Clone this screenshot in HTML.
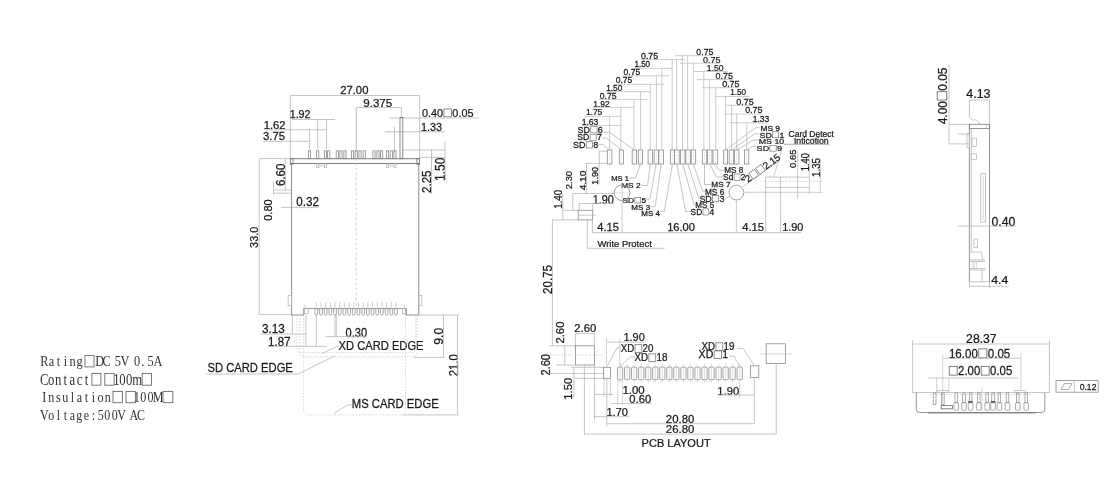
<!DOCTYPE html>
<html><head><meta charset="utf-8"><style>
html,body{margin:0;padding:0;background:#fff;width:1120px;height:492px;overflow:hidden}
svg{display:block;will-change:transform}
</style></head><body>
<svg width="1120" height="492" viewBox="0 0 1120 492">
<rect width="1120" height="492" fill="#fff"/>
<g transform="translate(340.70,94.10) scale(1.002,1)"><text x="-0.57" y="0" font-family="Liberation Sans" font-size="11.29" fill="#1a1a1a" stroke="#1a1a1a" stroke-width="0.25" xml:space="preserve">27.00</text></g>
<line x1="290.3" y1="95.5" x2="419.6" y2="95.5" stroke="#b8b8b8" stroke-width="0.8"/>
<line x1="290.3" y1="95.5" x2="290.3" y2="159" stroke="#b8b8b8" stroke-width="0.8"/>
<line x1="419.6" y1="95.5" x2="419.6" y2="158.7" stroke="#b8b8b8" stroke-width="0.8"/>
<g transform="translate(363.80,106.50) scale(1.112,1)"><text x="-0.49" y="0" font-family="Liberation Sans" font-size="10.43" fill="#1a1a1a" stroke="#1a1a1a" stroke-width="0.25" xml:space="preserve">9.375</text></g>
<line x1="356.3" y1="107.5" x2="401.3" y2="107.5" stroke="#b8b8b8" stroke-width="0.8"/>
<line x1="356.3" y1="107.5" x2="356.3" y2="152" stroke="#b8b8b8" stroke-width="0.8"/>
<line x1="401.3" y1="107.5" x2="401.3" y2="117.5" stroke="#b8b8b8" stroke-width="0.8"/>
<g transform="translate(290.50,118.00) scale(1.000,1)"><text x="-0.82" y="0" font-family="Liberation Sans" font-size="10.71" fill="#1a1a1a" stroke="#1a1a1a" stroke-width="0.25" xml:space="preserve">1.92</text></g>
<line x1="292" y1="119.5" x2="335" y2="119.5" stroke="#b8b8b8" stroke-width="0.8"/>
<line x1="317.7" y1="119" x2="317.7" y2="149" stroke="#b8b8b8" stroke-width="0.8"/>
<line x1="326.5" y1="119" x2="326.5" y2="149" stroke="#b8b8b8" stroke-width="0.8"/>
<g transform="translate(264.50,129.00) scale(1.051,1)"><text x="-0.82" y="0" font-family="Liberation Sans" font-size="10.71" fill="#1a1a1a" stroke="#1a1a1a" stroke-width="0.25" xml:space="preserve">1.62</text></g>
<line x1="264" y1="129.8" x2="327" y2="129.8" stroke="#b8b8b8" stroke-width="0.8"/>
<line x1="309.5" y1="128.5" x2="309.5" y2="149" stroke="#b8b8b8" stroke-width="0.8"/>
<g transform="translate(263.50,140.40) scale(1.064,1)"><text x="-0.40" y="0" font-family="Liberation Sans" font-size="10.57" fill="#1a1a1a" stroke="#1a1a1a" stroke-width="0.25" xml:space="preserve">3.75</text></g>
<line x1="263" y1="141.3" x2="308.6" y2="141.3" stroke="#b8b8b8" stroke-width="0.8"/>
<g transform="translate(422.40,116.60) scale(1.025,1)"><text x="-0.41" y="0" font-family="Liberation Sans" font-size="10.57" fill="#1a1a1a" stroke="#1a1a1a" stroke-width="0.25" xml:space="preserve">0.40</text><rect x="21.01" y="-7.61" width="7.40" height="7.82" fill="none" stroke="#666" stroke-width="0.74"/><text x="29.25" y="0" font-family="Liberation Sans" font-size="10.57" fill="#1a1a1a" stroke="#1a1a1a" stroke-width="0.25" xml:space="preserve">0.05</text></g>
<line x1="389.4" y1="118" x2="479" y2="118" stroke="#b8b8b8" stroke-width="0.8"/>
<g transform="translate(421.80,131.00) scale(1.012,1)"><text x="-0.82" y="0" font-family="Liberation Sans" font-size="10.71" fill="#1a1a1a" stroke="#1a1a1a" stroke-width="0.25" xml:space="preserve">1.33</text></g>
<line x1="384.8" y1="131.8" x2="445" y2="131.8" stroke="#b8b8b8" stroke-width="0.8"/>
<line x1="394.4" y1="127" x2="394.4" y2="152.3" stroke="#b8b8b8" stroke-width="0.8"/>
<g transform="translate(445.00,180.00) rotate(-90) scale(0.841,1)"><text x="-1.09" y="0" font-family="Liberation Sans" font-size="14.29" fill="#1a1a1a" stroke="#1a1a1a" stroke-width="0.25" xml:space="preserve">1.50</text></g>
<line x1="445" y1="141.3" x2="445" y2="180" stroke="#b8b8b8" stroke-width="0.8"/>
<line x1="403" y1="150" x2="445" y2="150" stroke="#b8b8b8" stroke-width="0.8"/>
<g transform="translate(431.00,192.40) rotate(-90) scale(0.898,1)"><text x="-0.65" y="0" font-family="Liberation Sans" font-size="12.86" fill="#1a1a1a" stroke="#1a1a1a" stroke-width="0.25" xml:space="preserve">2.25</text></g>
<line x1="431.5" y1="149.5" x2="431.5" y2="194" stroke="#b8b8b8" stroke-width="0.8"/>
<line x1="419" y1="157.3" x2="445" y2="157.3" stroke="#b8b8b8" stroke-width="0.8"/>
<g transform="translate(284.60,185.50) rotate(-90) scale(0.887,1)"><text x="-0.66" y="0" font-family="Liberation Sans" font-size="13.00" fill="#1a1a1a" stroke="#1a1a1a" stroke-width="0.25" xml:space="preserve">6.60</text></g>
<line x1="285.4" y1="158.6" x2="285.4" y2="190" stroke="#b8b8b8" stroke-width="0.8"/>
<line x1="273.5" y1="190" x2="291.3" y2="190" stroke="#b8b8b8" stroke-width="0.8"/>
<line x1="273.5" y1="193.2" x2="291.3" y2="193.2" stroke="#b8b8b8" stroke-width="0.8"/>
<g transform="translate(272.40,220.40) rotate(-90) scale(0.958,1)"><text x="-0.45" y="0" font-family="Liberation Sans" font-size="11.57" fill="#1a1a1a" stroke="#1a1a1a" stroke-width="0.25" xml:space="preserve">0.80</text></g>
<line x1="273.5" y1="181.4" x2="273.5" y2="194.6" stroke="#b8b8b8" stroke-width="0.8"/>
<g transform="translate(296.70,206.40) scale(0.969,1)"><text x="-0.47" y="0" font-family="Liberation Sans" font-size="12.00" fill="#1a1a1a" stroke="#1a1a1a" stroke-width="0.25" xml:space="preserve">0.32</text></g>
<line x1="281" y1="207.6" x2="318.7" y2="207.6" stroke="#b8b8b8" stroke-width="0.8"/>
<g transform="translate(258.20,247.50) rotate(-90) scale(0.927,1)"><text x="-0.45" y="0" font-family="Liberation Sans" font-size="11.71" fill="#1a1a1a" stroke="#1a1a1a" stroke-width="0.25" xml:space="preserve">33.0</text></g>
<line x1="259.2" y1="158.6" x2="259.2" y2="314.6" stroke="#b8b8b8" stroke-width="0.8"/>
<line x1="259.2" y1="158.6" x2="290.3" y2="158.6" stroke="#b8b8b8" stroke-width="0.8"/>
<line x1="259.2" y1="314.6" x2="291.6" y2="314.6" stroke="#b8b8b8" stroke-width="0.8"/>
<line x1="290.3" y1="158.7" x2="419.6" y2="158.7" stroke="#6e6e6e" stroke-width="0.9"/>
<line x1="290.3" y1="163.5" x2="419.6" y2="163.5" stroke="#6e6e6e" stroke-width="0.9"/>
<rect x="290.3" y="158.7" width="2.7" height="5.5" fill="none" stroke="#6e6e6e" stroke-width="0.8"/>
<rect x="416.9" y="158.7" width="2.7" height="5.5" fill="none" stroke="#6e6e6e" stroke-width="0.8"/>
<rect x="308.4" y="150.8" width="2.2" height="7.9" fill="none" stroke="#888" stroke-width="0.8"/>
<rect x="316.59999999999997" y="150.8" width="2.2" height="7.9" fill="none" stroke="#888" stroke-width="0.8"/>
<rect x="324.29999999999995" y="150.8" width="2.2" height="7.9" fill="none" stroke="#888" stroke-width="0.8"/>
<rect x="327.59999999999997" y="150.8" width="2.2" height="7.9" fill="none" stroke="#888" stroke-width="0.8"/>
<rect x="336.2" y="150.8" width="2.2" height="7.9" fill="none" stroke="#888" stroke-width="0.8"/>
<rect x="339.9" y="150.8" width="2.2" height="7.9" fill="none" stroke="#888" stroke-width="0.8"/>
<rect x="343.9" y="150.8" width="2.2" height="7.9" fill="none" stroke="#888" stroke-width="0.8"/>
<rect x="351.4" y="150.8" width="2.2" height="7.9" fill="none" stroke="#888" stroke-width="0.8"/>
<rect x="355.09999999999997" y="150.8" width="2.2" height="7.9" fill="none" stroke="#888" stroke-width="0.8"/>
<rect x="358.9" y="150.8" width="2.2" height="7.9" fill="none" stroke="#888" stroke-width="0.8"/>
<rect x="363.09999999999997" y="150.8" width="2.2" height="7.9" fill="none" stroke="#888" stroke-width="0.8"/>
<rect x="372.9" y="150.8" width="2.2" height="7.9" fill="none" stroke="#888" stroke-width="0.8"/>
<rect x="376.9" y="150.8" width="2.2" height="7.9" fill="none" stroke="#888" stroke-width="0.8"/>
<rect x="380.5" y="150.8" width="2.2" height="7.9" fill="none" stroke="#888" stroke-width="0.8"/>
<rect x="386.4" y="150.8" width="2.2" height="7.9" fill="none" stroke="#888" stroke-width="0.8"/>
<rect x="390.2" y="150.8" width="2.2" height="7.9" fill="none" stroke="#888" stroke-width="0.8"/>
<rect x="393.9" y="150.8" width="2.2" height="7.9" fill="none" stroke="#888" stroke-width="0.8"/>
<rect x="400" y="117.5" width="2.8" height="41.2" fill="none" stroke="#6e6e6e" stroke-width="0.8"/>
<rect x="316.59999999999997" y="164" width="2.2" height="3.5" fill="none" stroke="#b8b8b8" stroke-width="0.8"/>
<rect x="324.29999999999995" y="164" width="2.2" height="3.5" fill="none" stroke="#b8b8b8" stroke-width="0.8"/>
<line x1="318.8" y1="165.8" x2="324.29999999999995" y2="165.8" stroke="#b8b8b8" stroke-width="0.8"/>
<rect x="386.4" y="164" width="2.2" height="3.5" fill="none" stroke="#b8b8b8" stroke-width="0.8"/>
<rect x="393.9" y="164" width="2.2" height="3.5" fill="none" stroke="#b8b8b8" stroke-width="0.8"/>
<line x1="388.6" y1="165.8" x2="393.9" y2="165.8" stroke="#b8b8b8" stroke-width="0.8"/>
<line x1="291.6" y1="163.5" x2="291.6" y2="315" stroke="#6e6e6e" stroke-width="0.8"/>
<line x1="418.8" y1="163.5" x2="418.8" y2="315" stroke="#6e6e6e" stroke-width="0.8"/>
<line x1="356.2" y1="107.5" x2="356.2" y2="308.7" stroke="#c4c4c4" stroke-width="0.7" stroke-dasharray="3,2"/>
<rect x="288.1" y="295.6" width="3.4" height="10.0" fill="none" stroke="#b8b8b8" stroke-width="0.8"/>
<rect x="418.8" y="295.6" width="3.1" height="10.0" fill="none" stroke="#b8b8b8" stroke-width="0.8"/>
<line x1="291.6" y1="315" x2="303.75" y2="315" stroke="#6e6e6e" stroke-width="0.8"/>
<line x1="303.75" y1="308.5" x2="303.75" y2="315" stroke="#6e6e6e" stroke-width="0.8"/>
<line x1="303.75" y1="308.5" x2="406.25" y2="308.5" stroke="#888" stroke-width="0.8"/>
<rect x="304.4" y="308.5" width="3.7" height="5.2" fill="none" stroke="#aaa" stroke-width="0.7"/>
<rect x="402.5" y="308.5" width="3.1" height="5.2" fill="none" stroke="#aaa" stroke-width="0.7"/>
<path d="M314.90,308.5 V313.5 Q314.90,315.2 316.25,315.2 Q317.60,315.2 317.60,313.5 V308.5" fill="none" stroke="#888" stroke-width="0.75"/>
<line x1="316.25" y1="302.0" x2="316.25" y2="308.5" stroke="#b4b4b4" stroke-width="0.6"/>
<path d="M319.59,308.5 V313.5 Q319.59,315.2 320.94,315.2 Q322.29,315.2 322.29,313.5 V308.5" fill="none" stroke="#888" stroke-width="0.75"/>
<line x1="320.94" y1="302.0" x2="320.94" y2="308.5" stroke="#b4b4b4" stroke-width="0.6"/>
<path d="M324.28,308.5 V313.5 Q324.28,315.2 325.63,315.2 Q326.98,315.2 326.98,313.5 V308.5" fill="none" stroke="#888" stroke-width="0.75"/>
<line x1="325.63" y1="302.0" x2="325.63" y2="308.5" stroke="#b4b4b4" stroke-width="0.6"/>
<path d="M328.97,308.5 V313.5 Q328.97,315.2 330.32,315.2 Q331.67,315.2 331.67,313.5 V308.5" fill="none" stroke="#888" stroke-width="0.75"/>
<line x1="330.32" y1="302.0" x2="330.32" y2="308.5" stroke="#b4b4b4" stroke-width="0.6"/>
<path d="M333.66,308.5 V313.5 Q333.66,315.2 335.01,315.2 Q336.36,315.2 336.36,313.5 V308.5" fill="none" stroke="#888" stroke-width="0.75"/>
<line x1="335.01" y1="302.0" x2="335.01" y2="308.5" stroke="#b4b4b4" stroke-width="0.6"/>
<path d="M338.35,308.5 V313.5 Q338.35,315.2 339.70,315.2 Q341.05,315.2 341.05,313.5 V308.5" fill="none" stroke="#888" stroke-width="0.75"/>
<line x1="339.7" y1="302.0" x2="339.7" y2="308.5" stroke="#b4b4b4" stroke-width="0.6"/>
<path d="M343.04,308.5 V313.5 Q343.04,315.2 344.39,315.2 Q345.74,315.2 345.74,313.5 V308.5" fill="none" stroke="#888" stroke-width="0.75"/>
<line x1="344.39" y1="302.0" x2="344.39" y2="308.5" stroke="#b4b4b4" stroke-width="0.6"/>
<path d="M347.73,308.5 V313.5 Q347.73,315.2 349.08,315.2 Q350.43,315.2 350.43,313.5 V308.5" fill="none" stroke="#888" stroke-width="0.75"/>
<line x1="349.08" y1="302.0" x2="349.08" y2="308.5" stroke="#b4b4b4" stroke-width="0.6"/>
<path d="M352.42,308.5 V313.5 Q352.42,315.2 353.77,315.2 Q355.12,315.2 355.12,313.5 V308.5" fill="none" stroke="#888" stroke-width="0.75"/>
<line x1="353.77" y1="302.0" x2="353.77" y2="308.5" stroke="#b4b4b4" stroke-width="0.6"/>
<path d="M357.11,308.5 V313.5 Q357.11,315.2 358.46,315.2 Q359.81,315.2 359.81,313.5 V308.5" fill="none" stroke="#888" stroke-width="0.75"/>
<line x1="358.46" y1="302.0" x2="358.46" y2="308.5" stroke="#b4b4b4" stroke-width="0.6"/>
<path d="M361.80,308.5 V313.5 Q361.80,315.2 363.15,315.2 Q364.50,315.2 364.50,313.5 V308.5" fill="none" stroke="#888" stroke-width="0.75"/>
<line x1="363.15" y1="302.0" x2="363.15" y2="308.5" stroke="#b4b4b4" stroke-width="0.6"/>
<path d="M366.49,308.5 V313.5 Q366.49,315.2 367.84,315.2 Q369.19,315.2 369.19,313.5 V308.5" fill="none" stroke="#888" stroke-width="0.75"/>
<line x1="367.84" y1="302.0" x2="367.84" y2="308.5" stroke="#b4b4b4" stroke-width="0.6"/>
<path d="M371.18,308.5 V313.5 Q371.18,315.2 372.53,315.2 Q373.88,315.2 373.88,313.5 V308.5" fill="none" stroke="#888" stroke-width="0.75"/>
<line x1="372.53" y1="302.0" x2="372.53" y2="308.5" stroke="#b4b4b4" stroke-width="0.6"/>
<path d="M375.87,308.5 V313.5 Q375.87,315.2 377.22,315.2 Q378.57,315.2 378.57,313.5 V308.5" fill="none" stroke="#888" stroke-width="0.75"/>
<line x1="377.22" y1="302.0" x2="377.22" y2="308.5" stroke="#b4b4b4" stroke-width="0.6"/>
<path d="M380.56,308.5 V313.5 Q380.56,315.2 381.91,315.2 Q383.26,315.2 383.26,313.5 V308.5" fill="none" stroke="#888" stroke-width="0.75"/>
<line x1="381.91" y1="302.0" x2="381.91" y2="308.5" stroke="#b4b4b4" stroke-width="0.6"/>
<path d="M385.25,308.5 V313.5 Q385.25,315.2 386.60,315.2 Q387.95,315.2 387.95,313.5 V308.5" fill="none" stroke="#888" stroke-width="0.75"/>
<line x1="386.6" y1="302.0" x2="386.6" y2="308.5" stroke="#b4b4b4" stroke-width="0.6"/>
<path d="M389.94,308.5 V313.5 Q389.94,315.2 391.29,315.2 Q392.64,315.2 392.64,313.5 V308.5" fill="none" stroke="#888" stroke-width="0.75"/>
<line x1="391.29" y1="302.0" x2="391.29" y2="308.5" stroke="#b4b4b4" stroke-width="0.6"/>
<path d="M394.63,308.5 V313.5 Q394.63,315.2 395.98,315.2 Q397.33,315.2 397.33,313.5 V308.5" fill="none" stroke="#888" stroke-width="0.75"/>
<line x1="395.98" y1="302.0" x2="395.98" y2="308.5" stroke="#b4b4b4" stroke-width="0.6"/>
<line x1="305.0" y1="304.5" x2="305.0" y2="308.5" stroke="#b4b4b4" stroke-width="0.6"/>
<line x1="404.4" y1="304.5" x2="404.4" y2="308.5" stroke="#b4b4b4" stroke-width="0.6"/>
<line x1="406.25" y1="308.5" x2="406.25" y2="315" stroke="#6e6e6e" stroke-width="0.8"/>
<line x1="406.25" y1="315" x2="418.8" y2="315" stroke="#6e6e6e" stroke-width="0.8"/>
<line x1="418.8" y1="315" x2="458.9" y2="315" stroke="#b8b8b8" stroke-width="0.8"/>
<g transform="translate(262.40,333.40) scale(0.939,1)"><text x="-0.48" y="0" font-family="Liberation Sans" font-size="12.57" fill="#1a1a1a" stroke="#1a1a1a" stroke-width="0.25" xml:space="preserve">3.13</text></g>
<line x1="260.7" y1="334.1" x2="305.9" y2="334.1" stroke="#b8b8b8" stroke-width="0.8"/>
<g transform="translate(268.80,345.90) scale(0.937,1)"><text x="-0.95" y="0" font-family="Liberation Sans" font-size="12.43" fill="#1a1a1a" stroke="#1a1a1a" stroke-width="0.25" xml:space="preserve">1.87</text></g>
<line x1="268" y1="346.3" x2="326.6" y2="346.3" stroke="#b8b8b8" stroke-width="0.8"/>
<line x1="292.4" y1="315" x2="292.4" y2="334" stroke="#b8b8b8" stroke-width="0.8"/>
<line x1="305.9" y1="315" x2="305.9" y2="346" stroke="#b8b8b8" stroke-width="0.8"/>
<line x1="316.25" y1="315.2" x2="316.25" y2="346" stroke="#b8b8b8" stroke-width="0.8"/>
<line x1="335.0" y1="315.2" x2="335.0" y2="336.6" stroke="#b8b8b8" stroke-width="0.8"/>
<line x1="336.2" y1="315.2" x2="336.2" y2="336.6" stroke="#b8b8b8" stroke-width="0.8"/>
<g transform="translate(346.00,336.60) scale(0.928,1)"><text x="-0.47" y="0" font-family="Liberation Sans" font-size="12.00" fill="#1a1a1a" stroke="#1a1a1a" stroke-width="0.25" xml:space="preserve">0.30</text></g>
<line x1="325" y1="336.6" x2="366.8" y2="336.6" stroke="#b8b8b8" stroke-width="0.8"/>
<g transform="translate(338.80,350.00) scale(0.921,1)"><text x="-0.27" y="0" font-family="Liberation Sans" font-size="12.14" fill="#1a1a1a" stroke="#1a1a1a" stroke-width="0.25" xml:space="preserve">XD CARD EDGE</text></g>
<line x1="338.8" y1="345.5" x2="321.7" y2="353.7" stroke="#b8b8b8" stroke-width="0.8"/>
<g transform="translate(208.00,372.00) scale(0.903,1)"><text x="-0.56" y="0" font-family="Liberation Sans" font-size="12.43" fill="#1a1a1a" stroke="#1a1a1a" stroke-width="0.25" xml:space="preserve">SD CARD EDGE</text></g>
<polyline points="205.8,374 298.5,374 335.3,355.5" fill="none" stroke="#b8b8b8" stroke-width="0.8"/>
<g transform="translate(352.70,408.30) scale(0.928,1)"><text x="-1.00" y="0" font-family="Liberation Sans" font-size="12.14" fill="#1a1a1a" stroke="#1a1a1a" stroke-width="0.25" xml:space="preserve">MS CARD EDGE</text></g>
<polyline points="334,413.4 347.3,405 352,405" fill="none" stroke="#b8b8b8" stroke-width="0.8"/>
<g transform="translate(443.00,344.10) rotate(-90) scale(0.922,1)"><text x="-0.62" y="0" font-family="Liberation Sans" font-size="13.14" fill="#1a1a1a" stroke="#1a1a1a" stroke-width="0.25" xml:space="preserve">9.0</text></g>
<line x1="443.5" y1="315" x2="443.5" y2="357.4" stroke="#b8b8b8" stroke-width="0.8"/>
<line x1="414" y1="357.4" x2="444.3" y2="357.4" stroke="#b8b8b8" stroke-width="0.8"/>
<g transform="translate(457.50,375.80) rotate(-90) scale(0.865,1)"><text x="-0.66" y="0" font-family="Liberation Sans" font-size="13.14" fill="#1a1a1a" stroke="#1a1a1a" stroke-width="0.25" xml:space="preserve">21.0</text></g>
<line x1="457.5" y1="315" x2="457.5" y2="414.1" stroke="#b8b8b8" stroke-width="0.8"/>
<line x1="402.6" y1="414.9" x2="458.9" y2="414.9" stroke="#b8b8b8" stroke-width="0.8"/>
<path d="M297,315 V348.4 Q297,352.6 301,352.6 H411.8 Q415.8,352.6 415.8,348.6 V315" fill="none" stroke="#c4c4c4" stroke-width="0.7" stroke-dasharray="1.5,1.5"/>
<path d="M299.8,315 V351.8 Q299.8,356.8 304.8,356.8 H412 Q417.2,356.8 417.2,351.6 V315" fill="none" stroke="#c4c4c4" stroke-width="0.7" stroke-dasharray="1.5,1.5"/>
<path d="M303.6,315 V410.4 Q303.6,414.9 308.1,414.9 H401 Q405.5,414.9 405.5,410.4 V315" fill="none" stroke="#c4c4c4" stroke-width="0.7" stroke-dasharray="1.5,1.5"/>
<text transform="translate(44.30,366.30) scale(0.8,1)" text-anchor="middle" font-family="Liberation Serif" font-size="15.42" fill="#333">R</text>
<text transform="translate(51.36,366.30) scale(0.8,1)" text-anchor="middle" font-family="Liberation Serif" font-size="15.42" fill="#333">a</text>
<text transform="translate(58.42,366.30) scale(0.8,1)" text-anchor="middle" font-family="Liberation Serif" font-size="15.42" fill="#333">t</text>
<text transform="translate(65.48,366.30) scale(0.8,1)" text-anchor="middle" font-family="Liberation Serif" font-size="15.42" fill="#333">i</text>
<text transform="translate(72.54,366.30) scale(0.8,1)" text-anchor="middle" font-family="Liberation Serif" font-size="15.42" fill="#333">n</text>
<text transform="translate(79.60,366.30) scale(0.8,1)" text-anchor="middle" font-family="Liberation Serif" font-size="15.42" fill="#333">g</text>
<rect x="85.00" y="355.40" width="9.00" height="11.50" fill="none" stroke="#6a6a6a" stroke-width="0.9"/>
<text transform="translate(99.70,366.30) scale(0.8,1)" text-anchor="middle" font-family="Liberation Serif" font-size="15.42" fill="#333">D</text>
<text transform="translate(106.50,366.30) scale(0.8,1)" text-anchor="middle" font-family="Liberation Serif" font-size="15.42" fill="#333">C</text>
<text transform="translate(117.90,366.30) scale(0.8,1)" text-anchor="middle" font-family="Liberation Serif" font-size="15.42" fill="#333">5</text>
<text transform="translate(124.90,366.30) scale(0.8,1)" text-anchor="middle" font-family="Liberation Serif" font-size="15.42" fill="#333">V</text>
<text transform="translate(137.20,366.30) scale(0.8,1)" text-anchor="middle" font-family="Liberation Serif" font-size="15.42" fill="#333">0</text>
<text transform="translate(142.80,366.30) scale(0.8,1)" text-anchor="middle" font-family="Liberation Serif" font-size="15.42" fill="#333">.</text>
<text transform="translate(150.50,366.30) scale(0.8,1)" text-anchor="middle" font-family="Liberation Serif" font-size="15.42" fill="#333">5</text>
<text transform="translate(158.00,366.30) scale(0.8,1)" text-anchor="middle" font-family="Liberation Serif" font-size="15.42" fill="#333">A</text>
<text transform="translate(44.10,384.60) scale(0.8,1)" text-anchor="middle" font-family="Liberation Serif" font-size="15.88" fill="#333">C</text>
<text transform="translate(51.18,384.60) scale(0.8,1)" text-anchor="middle" font-family="Liberation Serif" font-size="15.88" fill="#333">o</text>
<text transform="translate(58.26,384.60) scale(0.8,1)" text-anchor="middle" font-family="Liberation Serif" font-size="15.88" fill="#333">n</text>
<text transform="translate(65.34,384.60) scale(0.8,1)" text-anchor="middle" font-family="Liberation Serif" font-size="15.88" fill="#333">t</text>
<text transform="translate(72.42,384.60) scale(0.8,1)" text-anchor="middle" font-family="Liberation Serif" font-size="15.88" fill="#333">a</text>
<text transform="translate(79.50,384.60) scale(0.8,1)" text-anchor="middle" font-family="Liberation Serif" font-size="15.88" fill="#333">c</text>
<text transform="translate(86.58,384.60) scale(0.8,1)" text-anchor="middle" font-family="Liberation Serif" font-size="15.88" fill="#333">t</text>
<rect x="91.90" y="373.40" width="9.00" height="11.80" fill="none" stroke="#6a6a6a" stroke-width="0.9"/>
<rect x="104.80" y="373.40" width="9.30" height="11.80" fill="none" stroke="#6a6a6a" stroke-width="0.9"/>
<text transform="translate(116.50,384.60) scale(0.8,1)" text-anchor="middle" font-family="Liberation Serif" font-size="15.88" fill="#333">1</text>
<text transform="translate(122.30,384.60) scale(0.8,1)" text-anchor="middle" font-family="Liberation Serif" font-size="15.88" fill="#333">0</text>
<text transform="translate(129.20,384.60) scale(0.8,1)" text-anchor="middle" font-family="Liberation Serif" font-size="15.88" fill="#333">0</text>
<text transform="translate(137.10,384.60) scale(0.8,1)" text-anchor="middle" font-family="Liberation Serif" font-size="15.88" fill="#333">m</text>
<rect x="142.20" y="373.40" width="9.30" height="11.80" fill="none" stroke="#6a6a6a" stroke-width="0.9"/>
<text transform="translate(44.20,402.10) scale(0.8,1)" text-anchor="middle" font-family="Liberation Serif" font-size="15.11" fill="#333">I</text>
<text transform="translate(51.25,402.10) scale(0.8,1)" text-anchor="middle" font-family="Liberation Serif" font-size="15.11" fill="#333">n</text>
<text transform="translate(58.30,402.10) scale(0.8,1)" text-anchor="middle" font-family="Liberation Serif" font-size="15.11" fill="#333">s</text>
<text transform="translate(65.35,402.10) scale(0.8,1)" text-anchor="middle" font-family="Liberation Serif" font-size="15.11" fill="#333">u</text>
<text transform="translate(72.40,402.10) scale(0.8,1)" text-anchor="middle" font-family="Liberation Serif" font-size="15.11" fill="#333">l</text>
<text transform="translate(79.45,402.10) scale(0.8,1)" text-anchor="middle" font-family="Liberation Serif" font-size="15.11" fill="#333">a</text>
<text transform="translate(86.50,402.10) scale(0.8,1)" text-anchor="middle" font-family="Liberation Serif" font-size="15.11" fill="#333">t</text>
<text transform="translate(93.55,402.10) scale(0.8,1)" text-anchor="middle" font-family="Liberation Serif" font-size="15.11" fill="#333">i</text>
<text transform="translate(100.60,402.10) scale(0.8,1)" text-anchor="middle" font-family="Liberation Serif" font-size="15.11" fill="#333">o</text>
<text transform="translate(107.65,402.10) scale(0.8,1)" text-anchor="middle" font-family="Liberation Serif" font-size="15.11" fill="#333">n</text>
<rect x="113.00" y="391.40" width="9.40" height="11.30" fill="none" stroke="#6a6a6a" stroke-width="0.9"/>
<rect x="126.00" y="391.40" width="9.40" height="11.30" fill="none" stroke="#6a6a6a" stroke-width="0.9"/>
<text transform="translate(136.80,402.10) scale(0.8,1)" text-anchor="middle" font-family="Liberation Serif" font-size="15.11" fill="#333">1</text>
<text transform="translate(143.30,402.10) scale(0.8,1)" text-anchor="middle" font-family="Liberation Serif" font-size="15.11" fill="#333">0</text>
<text transform="translate(150.50,402.10) scale(0.8,1)" text-anchor="middle" font-family="Liberation Serif" font-size="15.11" fill="#333">0</text>
<text transform="translate(158.00,402.10) scale(0.8,1)" text-anchor="middle" font-family="Liberation Serif" font-size="15.11" fill="#333">M</text>
<rect x="163.00" y="391.40" width="9.80" height="11.30" fill="none" stroke="#6a6a6a" stroke-width="0.9"/>
<text transform="translate(44.30,420.00) scale(0.8,1)" text-anchor="middle" font-family="Liberation Serif" font-size="14.96" fill="#333">V</text>
<text transform="translate(51.30,420.00) scale(0.8,1)" text-anchor="middle" font-family="Liberation Serif" font-size="14.96" fill="#333">o</text>
<text transform="translate(58.30,420.00) scale(0.8,1)" text-anchor="middle" font-family="Liberation Serif" font-size="14.96" fill="#333">l</text>
<text transform="translate(65.30,420.00) scale(0.8,1)" text-anchor="middle" font-family="Liberation Serif" font-size="14.96" fill="#333">t</text>
<text transform="translate(72.30,420.00) scale(0.8,1)" text-anchor="middle" font-family="Liberation Serif" font-size="14.96" fill="#333">a</text>
<text transform="translate(79.30,420.00) scale(0.8,1)" text-anchor="middle" font-family="Liberation Serif" font-size="14.96" fill="#333">g</text>
<text transform="translate(86.30,420.00) scale(0.8,1)" text-anchor="middle" font-family="Liberation Serif" font-size="14.96" fill="#333">e</text>
<text transform="translate(93.40,420.00) scale(0.8,1)" text-anchor="middle" font-family="Liberation Serif" font-size="14.96" fill="#333">:</text>
<text transform="translate(100.70,420.00) scale(0.8,1)" text-anchor="middle" font-family="Liberation Serif" font-size="14.96" fill="#333">5</text>
<text transform="translate(107.30,420.00) scale(0.8,1)" text-anchor="middle" font-family="Liberation Serif" font-size="14.96" fill="#333">0</text>
<text transform="translate(114.70,420.00) scale(0.8,1)" text-anchor="middle" font-family="Liberation Serif" font-size="14.96" fill="#333">0</text>
<text transform="translate(121.60,420.00) scale(0.8,1)" text-anchor="middle" font-family="Liberation Serif" font-size="14.96" fill="#333">V</text>
<text transform="translate(133.70,420.00) scale(0.8,1)" text-anchor="middle" font-family="Liberation Serif" font-size="14.96" fill="#333">A</text>
<text transform="translate(140.90,420.00) scale(0.8,1)" text-anchor="middle" font-family="Liberation Serif" font-size="14.96" fill="#333">C</text>
<rect x="607.3" y="150.0" width="4.600000000000023" height="14.0" fill="none" stroke="#8a8a8a" stroke-width="0.8"/>
<rect x="619.3" y="150.0" width="4.300000000000068" height="14.0" fill="none" stroke="#8a8a8a" stroke-width="0.8"/>
<rect x="632.2" y="150.0" width="4.399999999999977" height="14.0" fill="none" stroke="#8a8a8a" stroke-width="0.8"/>
<rect x="638.3" y="150.0" width="4.2000000000000455" height="14.0" fill="none" stroke="#8a8a8a" stroke-width="0.8"/>
<rect x="648.1" y="150.0" width="4.399999999999977" height="14.0" fill="none" stroke="#8a8a8a" stroke-width="0.8"/>
<rect x="654.1" y="150.0" width="4.2999999999999545" height="14.0" fill="none" stroke="#8a8a8a" stroke-width="0.8"/>
<rect x="658.8" y="150.0" width="4.7000000000000455" height="14.0" fill="none" stroke="#8a8a8a" stroke-width="0.8"/>
<rect x="670.3" y="150.0" width="4.2000000000000455" height="14.0" fill="none" stroke="#8a8a8a" stroke-width="0.8"/>
<rect x="674.5" y="150.0" width="4.7000000000000455" height="14.0" fill="none" stroke="#8a8a8a" stroke-width="0.8"/>
<rect x="680.5" y="150.0" width="4.5" height="14.0" fill="none" stroke="#8a8a8a" stroke-width="0.8"/>
<rect x="685.8" y="150.0" width="4.5" height="14.0" fill="none" stroke="#8a8a8a" stroke-width="0.8"/>
<rect x="691.2" y="150.0" width="4.5" height="14.0" fill="none" stroke="#8a8a8a" stroke-width="0.8"/>
<rect x="702.3" y="150.0" width="4.5" height="14.0" fill="none" stroke="#8a8a8a" stroke-width="0.8"/>
<rect x="707.4" y="150.0" width="4.600000000000023" height="14.0" fill="none" stroke="#8a8a8a" stroke-width="0.8"/>
<rect x="713.0" y="150.0" width="4.7000000000000455" height="14.0" fill="none" stroke="#8a8a8a" stroke-width="0.8"/>
<rect x="723.7" y="150.0" width="3.8999999999999773" height="14.0" fill="none" stroke="#8a8a8a" stroke-width="0.8"/>
<rect x="729.2" y="150.0" width="4.5" height="14.0" fill="none" stroke="#8a8a8a" stroke-width="0.8"/>
<rect x="734.5" y="150.0" width="4.399999999999977" height="14.0" fill="none" stroke="#8a8a8a" stroke-width="0.8"/>
<rect x="744.6" y="150.0" width="4.199999999999932" height="14.0" fill="none" stroke="#8a8a8a" stroke-width="0.8"/>
<line x1="609.5999999999999" y1="146.0" x2="609.5999999999999" y2="168.5" stroke="#c8c8c8" stroke-width="0.6" stroke-dasharray="1.5,1.5"/>
<line x1="621.45" y1="146.0" x2="621.45" y2="168.5" stroke="#c8c8c8" stroke-width="0.6" stroke-dasharray="1.5,1.5"/>
<line x1="634.4000000000001" y1="146.0" x2="634.4000000000001" y2="168.5" stroke="#c8c8c8" stroke-width="0.6" stroke-dasharray="1.5,1.5"/>
<line x1="640.4" y1="146.0" x2="640.4" y2="168.5" stroke="#c8c8c8" stroke-width="0.6" stroke-dasharray="1.5,1.5"/>
<line x1="650.3" y1="146.0" x2="650.3" y2="168.5" stroke="#c8c8c8" stroke-width="0.6" stroke-dasharray="1.5,1.5"/>
<line x1="656.25" y1="146.0" x2="656.25" y2="168.5" stroke="#c8c8c8" stroke-width="0.6" stroke-dasharray="1.5,1.5"/>
<line x1="661.15" y1="146.0" x2="661.15" y2="168.5" stroke="#c8c8c8" stroke-width="0.6" stroke-dasharray="1.5,1.5"/>
<line x1="672.4" y1="146.0" x2="672.4" y2="168.5" stroke="#c8c8c8" stroke-width="0.6" stroke-dasharray="1.5,1.5"/>
<line x1="676.85" y1="146.0" x2="676.85" y2="168.5" stroke="#c8c8c8" stroke-width="0.6" stroke-dasharray="1.5,1.5"/>
<line x1="682.75" y1="146.0" x2="682.75" y2="168.5" stroke="#c8c8c8" stroke-width="0.6" stroke-dasharray="1.5,1.5"/>
<line x1="688.05" y1="146.0" x2="688.05" y2="168.5" stroke="#c8c8c8" stroke-width="0.6" stroke-dasharray="1.5,1.5"/>
<line x1="693.45" y1="146.0" x2="693.45" y2="168.5" stroke="#c8c8c8" stroke-width="0.6" stroke-dasharray="1.5,1.5"/>
<line x1="704.55" y1="146.0" x2="704.55" y2="168.5" stroke="#c8c8c8" stroke-width="0.6" stroke-dasharray="1.5,1.5"/>
<line x1="709.7" y1="146.0" x2="709.7" y2="168.5" stroke="#c8c8c8" stroke-width="0.6" stroke-dasharray="1.5,1.5"/>
<line x1="715.35" y1="146.0" x2="715.35" y2="168.5" stroke="#c8c8c8" stroke-width="0.6" stroke-dasharray="1.5,1.5"/>
<line x1="725.6500000000001" y1="146.0" x2="725.6500000000001" y2="168.5" stroke="#c8c8c8" stroke-width="0.6" stroke-dasharray="1.5,1.5"/>
<line x1="731.45" y1="146.0" x2="731.45" y2="168.5" stroke="#c8c8c8" stroke-width="0.6" stroke-dasharray="1.5,1.5"/>
<line x1="736.7" y1="146.0" x2="736.7" y2="168.5" stroke="#c8c8c8" stroke-width="0.6" stroke-dasharray="1.5,1.5"/>
<line x1="746.7" y1="146.0" x2="746.7" y2="168.5" stroke="#c8c8c8" stroke-width="0.6" stroke-dasharray="1.5,1.5"/>
<polyline points="607.3,151.2 599.3,151.2 599.3,163.4 607.3,163.4" fill="none" stroke="#b8b8b8" stroke-width="0.8"/>
<line x1="584.7" y1="163.4" x2="599.3" y2="163.4" stroke="#b8b8b8" stroke-width="0.8"/>
<g transform="translate(641.40,59.20) scale(0.987,1)"><text x="-0.35" y="0" font-family="Liberation Sans" font-size="8.86" fill="#1a1a1a" stroke="#1a1a1a" stroke-width="0.25" xml:space="preserve">0.75</text></g>
<line x1="640.4" y1="59.5" x2="684.9" y2="59.5" stroke="#bcbcbc" stroke-width="0.75"/>
<g transform="translate(635.00,66.80) scale(0.928,1)"><text x="-0.66" y="0" font-family="Liberation Sans" font-size="8.71" fill="#1a1a1a" stroke="#1a1a1a" stroke-width="0.25" xml:space="preserve">1.50</text></g>
<line x1="634.0" y1="68.3" x2="672.0" y2="68.3" stroke="#bcbcbc" stroke-width="0.75"/>
<g transform="translate(623.90,75.30) scale(0.968,1)"><text x="-0.35" y="0" font-family="Liberation Sans" font-size="8.86" fill="#1a1a1a" stroke="#1a1a1a" stroke-width="0.25" xml:space="preserve">0.75</text></g>
<line x1="623.0" y1="75.8" x2="669.8" y2="75.8" stroke="#bcbcbc" stroke-width="0.75"/>
<g transform="translate(616.00,83.10) scale(0.962,1)"><text x="-0.35" y="0" font-family="Liberation Sans" font-size="8.86" fill="#1a1a1a" stroke="#1a1a1a" stroke-width="0.25" xml:space="preserve">0.75</text></g>
<line x1="615.0" y1="84.3" x2="664.3" y2="84.3" stroke="#bcbcbc" stroke-width="0.75"/>
<g transform="translate(606.80,91.00) scale(0.931,1)"><text x="-0.67" y="0" font-family="Liberation Sans" font-size="8.86" fill="#1a1a1a" stroke="#1a1a1a" stroke-width="0.25" xml:space="preserve">1.50</text></g>
<line x1="606.0" y1="91.7" x2="650.6" y2="91.7" stroke="#bcbcbc" stroke-width="0.75"/>
<g transform="translate(600.20,98.60) scale(0.968,1)"><text x="-0.35" y="0" font-family="Liberation Sans" font-size="8.86" fill="#1a1a1a" stroke="#1a1a1a" stroke-width="0.25" xml:space="preserve">0.75</text></g>
<line x1="599.0" y1="99.4" x2="647.8" y2="99.4" stroke="#bcbcbc" stroke-width="0.75"/>
<g transform="translate(593.90,106.80) scale(0.955,1)"><text x="-0.67" y="0" font-family="Liberation Sans" font-size="8.86" fill="#1a1a1a" stroke="#1a1a1a" stroke-width="0.25" xml:space="preserve">1.92</text></g>
<line x1="593.0" y1="107.4" x2="634.0" y2="107.4" stroke="#bcbcbc" stroke-width="0.75"/>
<g transform="translate(586.50,115.30) scale(0.951,1)"><text x="-0.67" y="0" font-family="Liberation Sans" font-size="8.86" fill="#1a1a1a" stroke="#1a1a1a" stroke-width="0.25" xml:space="preserve">1.75</text></g>
<line x1="585.0" y1="116.3" x2="621.3" y2="116.3" stroke="#bcbcbc" stroke-width="0.75"/>
<g transform="translate(582.30,124.50) scale(0.964,1)"><text x="-0.67" y="0" font-family="Liberation Sans" font-size="8.86" fill="#1a1a1a" stroke="#1a1a1a" stroke-width="0.25" xml:space="preserve">1.63</text></g>
<line x1="582.0" y1="125.4" x2="621.3" y2="125.4" stroke="#bcbcbc" stroke-width="0.75"/>
<line x1="609.6" y1="116.3" x2="609.6" y2="150.0" stroke="#bcbcbc" stroke-width="0.75"/>
<line x1="620.8" y1="107.4" x2="620.8" y2="150.0" stroke="#bcbcbc" stroke-width="0.75"/>
<line x1="634.0" y1="99.4" x2="634.0" y2="150.0" stroke="#bcbcbc" stroke-width="0.75"/>
<line x1="640.6" y1="91.7" x2="640.6" y2="150.0" stroke="#bcbcbc" stroke-width="0.75"/>
<line x1="650.2" y1="84.3" x2="650.2" y2="150.0" stroke="#bcbcbc" stroke-width="0.75"/>
<line x1="656.4" y1="75.8" x2="656.4" y2="150.0" stroke="#bcbcbc" stroke-width="0.75"/>
<line x1="661.8" y1="68.3" x2="661.8" y2="150.0" stroke="#bcbcbc" stroke-width="0.75"/>
<line x1="672.2" y1="59.5" x2="672.2" y2="150.0" stroke="#bcbcbc" stroke-width="0.75"/>
<line x1="676.6" y1="59.5" x2="676.6" y2="150.0" stroke="#bcbcbc" stroke-width="0.75"/>
<line x1="682.5" y1="55.7" x2="682.5" y2="150.0" stroke="#bcbcbc" stroke-width="0.75"/>
<line x1="687.6" y1="55.7" x2="687.6" y2="150.0" stroke="#bcbcbc" stroke-width="0.75"/>
<line x1="693.4" y1="63.2" x2="693.4" y2="150.0" stroke="#bcbcbc" stroke-width="0.75"/>
<g transform="translate(696.70,55.20) scale(0.987,1)"><text x="-0.35" y="0" font-family="Liberation Sans" font-size="8.86" fill="#1a1a1a" stroke="#1a1a1a" stroke-width="0.25" xml:space="preserve">0.75</text></g>
<line x1="675.1" y1="55.7" x2="713.0" y2="55.7" stroke="#bcbcbc" stroke-width="0.75"/>
<g transform="translate(703.30,62.70) scale(1.011,1)"><text x="-0.35" y="0" font-family="Liberation Sans" font-size="8.86" fill="#1a1a1a" stroke="#1a1a1a" stroke-width="0.25" xml:space="preserve">0.75</text></g>
<line x1="680.0" y1="63.2" x2="720.3" y2="63.2" stroke="#bcbcbc" stroke-width="0.75"/>
<g transform="translate(707.50,71.00) scale(0.959,1)"><text x="-0.69" y="0" font-family="Liberation Sans" font-size="9.00" fill="#1a1a1a" stroke="#1a1a1a" stroke-width="0.25" xml:space="preserve">1.50</text></g>
<line x1="693.4" y1="71.5" x2="727.6" y2="71.5" stroke="#bcbcbc" stroke-width="0.75"/>
<g transform="translate(715.80,79.30) scale(0.995,1)"><text x="-0.35" y="0" font-family="Liberation Sans" font-size="9.00" fill="#1a1a1a" stroke="#1a1a1a" stroke-width="0.25" xml:space="preserve">0.75</text></g>
<line x1="697.0" y1="79.6" x2="733.0" y2="79.6" stroke="#bcbcbc" stroke-width="0.75"/>
<g transform="translate(722.50,87.30) scale(0.995,1)"><text x="-0.35" y="0" font-family="Liberation Sans" font-size="9.00" fill="#1a1a1a" stroke="#1a1a1a" stroke-width="0.25" xml:space="preserve">0.75</text></g>
<line x1="702.0" y1="87.7" x2="739.0" y2="87.7" stroke="#bcbcbc" stroke-width="0.75"/>
<g transform="translate(730.80,95.30) scale(0.910,1)"><text x="-0.69" y="0" font-family="Liberation Sans" font-size="9.00" fill="#1a1a1a" stroke="#1a1a1a" stroke-width="0.25" xml:space="preserve">1.50</text></g>
<line x1="715.7" y1="96.5" x2="749.5" y2="96.5" stroke="#bcbcbc" stroke-width="0.75"/>
<g transform="translate(736.70,104.80) scale(0.989,1)"><text x="-0.35" y="0" font-family="Liberation Sans" font-size="9.00" fill="#1a1a1a" stroke="#1a1a1a" stroke-width="0.25" xml:space="preserve">0.75</text></g>
<line x1="725.8" y1="105.3" x2="753.0" y2="105.3" stroke="#bcbcbc" stroke-width="0.75"/>
<g transform="translate(745.50,113.20) scale(0.995,1)"><text x="-0.35" y="0" font-family="Liberation Sans" font-size="9.00" fill="#1a1a1a" stroke="#1a1a1a" stroke-width="0.25" xml:space="preserve">0.75</text></g>
<line x1="724.0" y1="114.0" x2="762.0" y2="114.0" stroke="#bcbcbc" stroke-width="0.75"/>
<g transform="translate(753.30,122.00) scale(0.943,1)"><text x="-0.69" y="0" font-family="Liberation Sans" font-size="9.00" fill="#1a1a1a" stroke="#1a1a1a" stroke-width="0.25" xml:space="preserve">1.33</text></g>
<line x1="729.4" y1="122.8" x2="768.0" y2="122.8" stroke="#bcbcbc" stroke-width="0.75"/>
<line x1="703.8" y1="71.5" x2="703.8" y2="150.0" stroke="#bcbcbc" stroke-width="0.75"/>
<line x1="709.6" y1="79.6" x2="709.6" y2="150.0" stroke="#bcbcbc" stroke-width="0.75"/>
<line x1="715.8" y1="87.7" x2="715.8" y2="150.0" stroke="#bcbcbc" stroke-width="0.75"/>
<line x1="725.6" y1="96.5" x2="725.6" y2="150.0" stroke="#bcbcbc" stroke-width="0.75"/>
<line x1="731.6" y1="105.3" x2="731.6" y2="150.0" stroke="#bcbcbc" stroke-width="0.75"/>
<line x1="736.7" y1="114.0" x2="736.7" y2="150.0" stroke="#bcbcbc" stroke-width="0.75"/>
<line x1="746.8" y1="122.8" x2="746.8" y2="150.0" stroke="#bcbcbc" stroke-width="0.75"/>
<g transform="translate(578.00,132.70) scale(1.048,1)"><text x="-0.39" y="0" font-family="Liberation Sans" font-size="8.57" fill="#1a1a1a" stroke="#1a1a1a" stroke-width="0.25" xml:space="preserve">SD</text><rect x="12.20" y="-6.17" width="6.00" height="6.34" fill="none" stroke="#666" stroke-width="0.60"/><text x="18.89" y="0" font-family="Liberation Sans" font-size="8.57" fill="#1a1a1a" stroke="#1a1a1a" stroke-width="0.25" xml:space="preserve">6</text></g>
<g transform="translate(577.70,140.40) scale(1.016,1)"><text x="-0.39" y="0" font-family="Liberation Sans" font-size="8.57" fill="#1a1a1a" stroke="#1a1a1a" stroke-width="0.25" xml:space="preserve">SD</text><rect x="12.20" y="-6.17" width="6.00" height="6.34" fill="none" stroke="#666" stroke-width="0.60"/><text x="18.89" y="0" font-family="Liberation Sans" font-size="8.57" fill="#1a1a1a" stroke="#1a1a1a" stroke-width="0.25" xml:space="preserve">7</text></g>
<g transform="translate(573.40,147.80) scale(1.070,1)"><text x="-0.38" y="0" font-family="Liberation Sans" font-size="8.43" fill="#1a1a1a" stroke="#1a1a1a" stroke-width="0.25" xml:space="preserve">SD</text><rect x="12.00" y="-6.07" width="5.90" height="6.24" fill="none" stroke="#666" stroke-width="0.60"/><text x="18.57" y="0" font-family="Liberation Sans" font-size="8.43" fill="#1a1a1a" stroke="#1a1a1a" stroke-width="0.25" xml:space="preserve">8</text></g>
<polyline points="603.0,132.2 609.3,132.2 634.4,150" fill="none" stroke="#b8b8b8" stroke-width="0.8"/>
<polyline points="601.9,138.1 606.6,138.1 621.4,150" fill="none" stroke="#b8b8b8" stroke-width="0.8"/>
<polyline points="598.5,144.4 603.0,144.4 609.6,150" fill="none" stroke="#b8b8b8" stroke-width="0.8"/>
<g transform="translate(761.10,130.90) scale(1.068,1)"><text x="-0.64" y="0" font-family="Liberation Sans" font-size="7.86" fill="#1a1a1a" stroke="#1a1a1a" stroke-width="0.25" xml:space="preserve">MS 9</text></g>
<g transform="translate(759.90,137.60) scale(1.107,1)"><text x="-0.36" y="0" font-family="Liberation Sans" font-size="8.00" fill="#1a1a1a" stroke="#1a1a1a" stroke-width="0.25" xml:space="preserve">SD</text><rect x="11.39" y="-5.76" width="5.60" height="5.92" fill="none" stroke="#666" stroke-width="0.60"/><text x="17.63" y="0" font-family="Liberation Sans" font-size="8.00" fill="#1a1a1a" stroke="#1a1a1a" stroke-width="0.25" xml:space="preserve">1</text></g>
<g transform="translate(759.50,144.30) scale(1.121,1)"><text x="-0.64" y="0" font-family="Liberation Sans" font-size="7.86" fill="#1a1a1a" stroke="#1a1a1a" stroke-width="0.25" xml:space="preserve">MS 10</text></g>
<g transform="translate(757.00,151.00) scale(1.150,1)"><text x="-0.36" y="0" font-family="Liberation Sans" font-size="7.86" fill="#1a1a1a" stroke="#1a1a1a" stroke-width="0.25" xml:space="preserve">SD</text><rect x="11.19" y="-5.66" width="5.50" height="5.81" fill="none" stroke="#666" stroke-width="0.60"/><text x="17.32" y="0" font-family="Liberation Sans" font-size="7.86" fill="#1a1a1a" stroke="#1a1a1a" stroke-width="0.25" xml:space="preserve">9</text></g>
<polyline points="760.1,127.8 755.5,127.8 725.6,150" fill="none" stroke="#b8b8b8" stroke-width="0.8"/>
<polyline points="759.5,133.9 754.5,133.9 731.5,150" fill="none" stroke="#b8b8b8" stroke-width="0.8"/>
<polyline points="758.9,140.0 753.5,140.0 736.7,150" fill="none" stroke="#b8b8b8" stroke-width="0.8"/>
<polyline points="756.5,146.1 753.0,146.1 746.8,150" fill="none" stroke="#b8b8b8" stroke-width="0.8"/>
<g transform="translate(789.00,137.10) scale(1.045,1)"><text x="-0.41" y="0" font-family="Liberation Sans" font-size="8.14" fill="#1a1a1a" stroke="#1a1a1a" stroke-width="0.25" xml:space="preserve">Card Detect</text></g>
<g transform="translate(794.70,143.50) scale(1.070,1)"><text x="-0.75" y="0" font-family="Liberation Sans" font-size="8.14" fill="#1a1a1a" stroke="#1a1a1a" stroke-width="0.25" xml:space="preserve">Inticotion</text></g>
<line x1="783.9" y1="144.3" x2="829.6" y2="144.3" stroke="#b8b8b8" stroke-width="0.8"/>
<g transform="translate(611.90,181.00) scale(0.988,1)"><text x="-0.63" y="0" font-family="Liberation Sans" font-size="7.71" fill="#1a1a1a" stroke="#1a1a1a" stroke-width="0.25" xml:space="preserve">MS 1</text></g>
<g transform="translate(621.80,187.80) scale(1.098,1)"><text x="-0.62" y="0" font-family="Liberation Sans" font-size="7.57" fill="#1a1a1a" stroke="#1a1a1a" stroke-width="0.25" xml:space="preserve">MS 2</text></g>
<polyline points="629.4,177.9 635.5,177.9 640.4,164" fill="none" stroke="#b8b8b8" stroke-width="0.8"/>
<polyline points="640.9,185.5 647.6,185.5 650.3,164" fill="none" stroke="#b8b8b8" stroke-width="0.8"/>
<g transform="translate(622.80,202.80) scale(1.118,1)"><text x="-0.34" y="0" font-family="Liberation Sans" font-size="7.57" fill="#1a1a1a" stroke="#1a1a1a" stroke-width="0.25" xml:space="preserve">SD</text><rect x="10.78" y="-5.45" width="5.30" height="5.60" fill="none" stroke="#666" stroke-width="0.60"/><text x="16.69" y="0" font-family="Liberation Sans" font-size="7.57" fill="#1a1a1a" stroke="#1a1a1a" stroke-width="0.25" xml:space="preserve">5</text></g>
<g transform="translate(632.00,209.90) scale(1.129,1)"><text x="-0.59" y="0" font-family="Liberation Sans" font-size="7.14" fill="#1a1a1a" stroke="#1a1a1a" stroke-width="0.25" xml:space="preserve">MS 3</text></g>
<g transform="translate(642.00,215.60) scale(1.052,1)"><text x="-0.62" y="0" font-family="Liberation Sans" font-size="7.57" fill="#1a1a1a" stroke="#1a1a1a" stroke-width="0.25" xml:space="preserve">MS 4</text></g>
<polyline points="646.2,199.2 649.9,199.2 656.2,164" fill="none" stroke="#b8b8b8" stroke-width="0.8"/>
<polyline points="650.5,206.7 655.2,206.7 661.1,164" fill="none" stroke="#b8b8b8" stroke-width="0.8"/>
<polyline points="660.6,211.3 664.4,211.3 672.4,164" fill="none" stroke="#b8b8b8" stroke-width="0.8"/>
<g transform="translate(724.80,173.00) scale(0.946,1)"><text x="-0.71" y="0" font-family="Liberation Sans" font-size="8.71" fill="#1a1a1a" stroke="#1a1a1a" stroke-width="0.25" xml:space="preserve">MS 8</text></g>
<g transform="translate(723.50,180.40) scale(0.954,1)"><text x="-0.40" y="0" font-family="Liberation Sans" font-size="8.86" fill="#1a1a1a" stroke="#1a1a1a" stroke-width="0.25" xml:space="preserve">Sd</text><rect x="11.14" y="-6.38" width="6.20" height="6.55" fill="none" stroke="#666" stroke-width="0.62"/><text x="18.05" y="0" font-family="Liberation Sans" font-size="8.86" fill="#1a1a1a" stroke="#1a1a1a" stroke-width="0.25" xml:space="preserve">2</text></g>
<g transform="translate(712.00,186.80) scale(1.058,1)"><text x="-0.64" y="0" font-family="Liberation Sans" font-size="7.86" fill="#1a1a1a" stroke="#1a1a1a" stroke-width="0.25" xml:space="preserve">MS 7</text></g>
<g transform="translate(705.60,194.50) scale(0.983,1)"><text x="-0.69" y="0" font-family="Liberation Sans" font-size="8.43" fill="#1a1a1a" stroke="#1a1a1a" stroke-width="0.25" xml:space="preserve">MS 6</text></g>
<g transform="translate(699.80,201.70) scale(1.040,1)"><text x="-0.39" y="0" font-family="Liberation Sans" font-size="8.57" fill="#1a1a1a" stroke="#1a1a1a" stroke-width="0.25" xml:space="preserve">SD</text><rect x="12.20" y="-6.17" width="6.00" height="6.34" fill="none" stroke="#666" stroke-width="0.60"/><text x="18.89" y="0" font-family="Liberation Sans" font-size="8.57" fill="#1a1a1a" stroke="#1a1a1a" stroke-width="0.25" xml:space="preserve">3</text></g>
<g transform="translate(696.00,207.80) scale(0.978,1)"><text x="-0.68" y="0" font-family="Liberation Sans" font-size="8.29" fill="#1a1a1a" stroke="#1a1a1a" stroke-width="0.25" xml:space="preserve">MS 5</text></g>
<g transform="translate(691.00,214.80) scale(1.012,1)"><text x="-0.38" y="0" font-family="Liberation Sans" font-size="8.29" fill="#1a1a1a" stroke="#1a1a1a" stroke-width="0.25" xml:space="preserve">SD</text><rect x="11.80" y="-5.97" width="5.80" height="6.13" fill="none" stroke="#666" stroke-width="0.60"/><text x="18.26" y="0" font-family="Liberation Sans" font-size="8.29" fill="#1a1a1a" stroke="#1a1a1a" stroke-width="0.25" xml:space="preserve">4</text></g>
<polyline points="724.5,170.3 719.3,170.3 715.3,164" fill="none" stroke="#b8b8b8" stroke-width="0.8"/>
<polyline points="723.0,177.0 716.5,177.0 709.7,164" fill="none" stroke="#b8b8b8" stroke-width="0.8"/>
<polyline points="712.0,184.5 704.5,184.5 704.5,164" fill="none" stroke="#b8b8b8" stroke-width="0.8"/>
<polyline points="705.5,191.0 702.5,191.0 693.4,164" fill="none" stroke="#b8b8b8" stroke-width="0.8"/>
<polyline points="699.6,198.3 698.7,198.3 688.0,164" fill="none" stroke="#b8b8b8" stroke-width="0.8"/>
<polyline points="695.8,204.8 694.1,204.8 682.7,164" fill="none" stroke="#b8b8b8" stroke-width="0.8"/>
<polyline points="690.8,211.5 685.7,211.5 676.9,164" fill="none" stroke="#b8b8b8" stroke-width="0.8"/>
<circle cx="622.0" cy="192.8" r="7.8" fill="none" stroke="#8a8a8a" stroke-width="0.8"/>
<circle cx="736.4" cy="192.6" r="7.4" fill="none" stroke="#8a8a8a" stroke-width="0.8"/>
<line x1="612" y1="192.8" x2="632" y2="192.8" stroke="#bbb" stroke-width="0.6" stroke-dasharray="2,1.5"/>
<line x1="622" y1="183" x2="622" y2="233.4" stroke="#bcbcbc" stroke-width="0.75"/>
<line x1="744" y1="192.3" x2="822.6" y2="192.3" stroke="#bcbcbc" stroke-width="0.75"/>
<line x1="736.4" y1="200" x2="736.4" y2="233.4" stroke="#bcbcbc" stroke-width="0.75"/>
<line x1="742.8" y1="186.9" x2="779.1" y2="160.7" stroke="#bcbcbc" stroke-width="0.75"/>
<line x1="723.4" y1="200.4" x2="729.6" y2="196.0" stroke="#bcbcbc" stroke-width="0.75"/>
<line x1="781.9" y1="150.3" x2="773.5" y2="177.1" stroke="#bcbcbc" stroke-width="0.75"/>
<g transform="translate(748.50,182.50) rotate(-36) scale(0.968,1)"><text x="-0.50" y="0" font-family="Liberation Sans" font-size="10.00" fill="#1a1a1a" stroke="#1a1a1a" stroke-width="0.25" xml:space="preserve">2</text><rect x="5.86" y="-7.20" width="7.00" height="7.40" fill="none" stroke="#666" stroke-width="0.70"/><rect x="14.46" y="-7.20" width="7.00" height="7.40" fill="none" stroke="#666" stroke-width="0.70"/><text x="22.26" y="0" font-family="Liberation Sans" font-size="10.00" fill="#1a1a1a" stroke="#1a1a1a" stroke-width="0.25" xml:space="preserve">2.15</text></g>
<line x1="765.7" y1="177.1" x2="809.3" y2="177.1" stroke="#b8b8b8" stroke-width="0.8"/>
<line x1="765.7" y1="187.4" x2="809.3" y2="187.4" stroke="#b8b8b8" stroke-width="0.8"/>
<line x1="760.7" y1="181.4" x2="822.6" y2="181.4" stroke="#c0c0c0" stroke-width="0.6" stroke-dasharray="2,1.5"/>
<line x1="765.7" y1="177.1" x2="765.7" y2="232.6" stroke="#b8b8b8" stroke-width="0.8"/>
<line x1="780.6" y1="177.1" x2="780.6" y2="232.6" stroke="#b8b8b8" stroke-width="0.8"/>
<line x1="797.7" y1="150.6" x2="797.7" y2="198.5" stroke="#bcbcbc" stroke-width="0.75"/>
<line x1="809.3" y1="153.5" x2="809.3" y2="194.2" stroke="#bcbcbc" stroke-width="0.75"/>
<line x1="820.3" y1="158.5" x2="820.3" y2="191.4" stroke="#bcbcbc" stroke-width="0.75"/>
<line x1="784" y1="144.3" x2="829.6" y2="144.3" stroke="#b8b8b8" stroke-width="0.8"/>
<g transform="translate(796.40,167.60) rotate(-90) scale(0.986,1)"><text x="-0.37" y="0" font-family="Liberation Sans" font-size="9.57" fill="#1a1a1a" stroke="#1a1a1a" stroke-width="0.25" xml:space="preserve">0.65</text></g>
<g transform="translate(808.60,170.60) rotate(-90) scale(0.934,1)"><text x="-0.76" y="0" font-family="Liberation Sans" font-size="10.00" fill="#1a1a1a" stroke="#1a1a1a" stroke-width="0.25" xml:space="preserve">1.40</text></g>
<g transform="translate(819.70,176.20) rotate(-90) scale(0.941,1)"><text x="-0.78" y="0" font-family="Liberation Sans" font-size="10.29" fill="#1a1a1a" stroke="#1a1a1a" stroke-width="0.25" xml:space="preserve">1.35</text></g>
<g transform="translate(593.50,203.60) scale(0.906,1)"><text x="-0.91" y="0" font-family="Liberation Sans" font-size="12.00" fill="#1a1a1a" stroke="#1a1a1a" stroke-width="0.25" xml:space="preserve">1.90</text></g>
<g transform="translate(586.00,190.10) rotate(-90) scale(1.163,1)"><text x="-0.20" y="0" font-family="Liberation Sans" font-size="8.71" fill="#1a1a1a" stroke="#1a1a1a" stroke-width="0.25" xml:space="preserve">4.10</text></g>
<g transform="translate(598.20,184.00) rotate(-90) scale(0.931,1)"><text x="-0.75" y="0" font-family="Liberation Sans" font-size="9.86" fill="#1a1a1a" stroke="#1a1a1a" stroke-width="0.25" xml:space="preserve">1.90</text></g>
<line x1="586.5" y1="163.4" x2="586.5" y2="193.5" stroke="#b8b8b8" stroke-width="0.8"/>
<line x1="599.0" y1="163.4" x2="599.0" y2="184.0" stroke="#b8b8b8" stroke-width="0.8"/>
<g transform="translate(572.40,188.70) rotate(-90) scale(0.951,1)"><text x="-0.50" y="0" font-family="Liberation Sans" font-size="9.86" fill="#1a1a1a" stroke="#1a1a1a" stroke-width="0.25" xml:space="preserve">2.30</text></g>
<line x1="572.8" y1="193.5" x2="572.8" y2="210.3" stroke="#b8b8b8" stroke-width="0.8"/>
<line x1="572.8" y1="193.5" x2="614.0" y2="193.5" stroke="#b8b8b8" stroke-width="0.8"/>
<g transform="translate(562.00,208.00) rotate(-90) scale(0.920,1)"><text x="-0.81" y="0" font-family="Liberation Sans" font-size="10.57" fill="#1a1a1a" stroke="#1a1a1a" stroke-width="0.25" xml:space="preserve">1.40</text></g>
<line x1="562.8" y1="193.5" x2="562.8" y2="219.9" stroke="#b8b8b8" stroke-width="0.8"/>
<line x1="563.5" y1="210.3" x2="578.2" y2="210.3" stroke="#b8b8b8" stroke-width="0.8"/>
<line x1="552.0" y1="219.9" x2="578.2" y2="219.9" stroke="#b8b8b8" stroke-width="0.8"/>
<polyline points="579.2,210.3 579.2,203.5 592.7,203.5 592.7,210.3" fill="none" stroke="#b8b8b8" stroke-width="0.8"/>
<line x1="592.7" y1="203.5" x2="614" y2="203.5" stroke="#bcbcbc" stroke-width="0.75"/>
<rect x="578.2" y="210.3" width="14.5" height="9.6" fill="none" stroke="#8a8a8a" stroke-width="0.8"/>
<line x1="578.2" y1="215.2" x2="596.3" y2="215.2" stroke="#aaa" stroke-width="0.6"/>
<line x1="592.4" y1="219.9" x2="592.4" y2="232.7" stroke="#b8b8b8" stroke-width="0.8"/>
<line x1="587.3" y1="219.9" x2="587.3" y2="248.3" stroke="#b8b8b8" stroke-width="0.8"/>
<line x1="587.3" y1="248.3" x2="664.7" y2="248.3" stroke="#b8b8b8" stroke-width="0.8"/>
<g transform="translate(597.50,246.50) scale(0.986,1)"><text x="-0.04" y="0" font-family="Liberation Sans" font-size="9.57" fill="#1a1a1a" stroke="#1a1a1a" stroke-width="0.25" xml:space="preserve">Write Protect</text></g>
<line x1="592.4" y1="232.6" x2="801.2" y2="232.6" stroke="#b8b8b8" stroke-width="0.8"/>
<g transform="translate(597.50,231.20) scale(1.002,1)"><text x="-0.26" y="0" font-family="Liberation Sans" font-size="11.14" fill="#1a1a1a" stroke="#1a1a1a" stroke-width="0.25" xml:space="preserve">4.15</text></g>
<g transform="translate(668.00,231.20) scale(1.000,1)"><text x="-0.85" y="0" font-family="Liberation Sans" font-size="11.14" fill="#1a1a1a" stroke="#1a1a1a" stroke-width="0.25" xml:space="preserve">16.00</text></g>
<g transform="translate(742.40,231.20) scale(1.007,1)"><text x="-0.26" y="0" font-family="Liberation Sans" font-size="11.14" fill="#1a1a1a" stroke="#1a1a1a" stroke-width="0.25" xml:space="preserve">4.15</text></g>
<g transform="translate(783.00,231.20) scale(0.980,1)"><text x="-0.85" y="0" font-family="Liberation Sans" font-size="11.14" fill="#1a1a1a" stroke="#1a1a1a" stroke-width="0.25" xml:space="preserve">1.90</text></g>
<line x1="552.4" y1="219.9" x2="552.4" y2="345.8" stroke="#b8b8b8" stroke-width="0.8"/>
<g transform="translate(551.70,293.40) rotate(-90) scale(0.935,1)"><text x="-0.63" y="0" font-family="Liberation Sans" font-size="12.43" fill="#1a1a1a" stroke="#1a1a1a" stroke-width="0.25" xml:space="preserve">20.75</text></g>
<line x1="549.2" y1="345.8" x2="575.4" y2="345.8" stroke="#b8b8b8" stroke-width="0.8"/>
<g transform="translate(563.90,343.00) rotate(-90) scale(1.002,1)"><text x="-0.57" y="0" font-family="Liberation Sans" font-size="11.29" fill="#1a1a1a" stroke="#1a1a1a" stroke-width="0.25" xml:space="preserve">2.60</text></g>
<line x1="564.8" y1="345.8" x2="564.8" y2="365.0" stroke="#b8b8b8" stroke-width="0.8"/>
<g transform="translate(574.80,332.00) scale(0.970,1)"><text x="-0.59" y="0" font-family="Liberation Sans" font-size="11.71" fill="#1a1a1a" stroke="#1a1a1a" stroke-width="0.25" xml:space="preserve">2.60</text></g>
<line x1="575.4" y1="333.3" x2="594.4" y2="333.3" stroke="#b8b8b8" stroke-width="0.8"/>
<line x1="575.4" y1="333.3" x2="575.4" y2="345.8" stroke="#b8b8b8" stroke-width="0.8"/>
<line x1="594.4" y1="333.3" x2="594.4" y2="345.8" stroke="#b8b8b8" stroke-width="0.8"/>
<rect x="575.4" y="345.8" width="19.0" height="19.2" fill="none" stroke="#8a8a8a" stroke-width="0.8"/>
<line x1="550.5" y1="355.0" x2="601.4" y2="355.0" stroke="#c0c0c0" stroke-width="0.6" stroke-dasharray="2,1.5"/>
<line x1="556.0" y1="365.0" x2="575.4" y2="365.0" stroke="#b8b8b8" stroke-width="0.8"/>
<g transform="translate(549.80,375.00) rotate(-90) scale(0.909,1)"><text x="-0.61" y="0" font-family="Liberation Sans" font-size="12.14" fill="#1a1a1a" stroke="#1a1a1a" stroke-width="0.25" xml:space="preserve">2.60</text></g>
<line x1="571.0" y1="367.3" x2="604.0" y2="367.3" stroke="#b8b8b8" stroke-width="0.8"/>
<line x1="548.2" y1="373.4" x2="604.0" y2="373.4" stroke="#b8b8b8" stroke-width="0.8"/>
<line x1="573.9" y1="367.3" x2="573.9" y2="398.4" stroke="#b8b8b8" stroke-width="0.8"/>
<g transform="translate(571.50,398.80) rotate(-90) scale(0.968,1)"><text x="-0.88" y="0" font-family="Liberation Sans" font-size="11.57" fill="#1a1a1a" stroke="#1a1a1a" stroke-width="0.25" xml:space="preserve">1.50</text></g>
<line x1="573.9" y1="378.3" x2="604.0" y2="378.3" stroke="#b8b8b8" stroke-width="0.8"/>
<line x1="584.4" y1="365.0" x2="584.4" y2="435.0" stroke="#b8b8b8" stroke-width="0.8"/>
<line x1="594.5" y1="365.0" x2="594.5" y2="420.4" stroke="#b8b8b8" stroke-width="0.8"/>
<rect x="603.7" y="367.3" width="6.8" height="11.2" fill="none" stroke="#8a8a8a" stroke-width="0.8"/>
<line x1="604.0" y1="378.5" x2="604.0" y2="396.6" stroke="#b8b8b8" stroke-width="0.6"/>
<line x1="610.5" y1="378.5" x2="610.5" y2="396.6" stroke="#b8b8b8" stroke-width="0.6"/>
<line x1="606.8" y1="378.5" x2="606.8" y2="426.8" stroke="#b8b8b8" stroke-width="0.8"/>
<rect x="617.50" y="367.1" width="5.2" height="12.6" rx="1.0" fill="none" stroke="#8a8a8a" stroke-width="0.8"/>
<line x1="620.1" y1="363.5" x2="620.1" y2="383.0" stroke="#c8c8c8" stroke-width="0.6"/>
<rect x="624.53" y="367.1" width="5.2" height="12.6" rx="1.0" fill="none" stroke="#8a8a8a" stroke-width="0.8"/>
<line x1="627.13" y1="363.5" x2="627.13" y2="383.0" stroke="#c8c8c8" stroke-width="0.6"/>
<rect x="631.57" y="367.1" width="5.2" height="12.6" rx="1.0" fill="none" stroke="#8a8a8a" stroke-width="0.8"/>
<line x1="634.17" y1="363.5" x2="634.17" y2="383.0" stroke="#c8c8c8" stroke-width="0.6"/>
<rect x="638.61" y="367.1" width="5.2" height="12.6" rx="1.0" fill="none" stroke="#8a8a8a" stroke-width="0.8"/>
<line x1="641.21" y1="363.5" x2="641.21" y2="383.0" stroke="#c8c8c8" stroke-width="0.6"/>
<rect x="645.64" y="367.1" width="5.2" height="12.6" rx="1.0" fill="none" stroke="#8a8a8a" stroke-width="0.8"/>
<line x1="648.24" y1="363.5" x2="648.24" y2="383.0" stroke="#c8c8c8" stroke-width="0.6"/>
<rect x="652.67" y="367.1" width="5.2" height="12.6" rx="1.0" fill="none" stroke="#8a8a8a" stroke-width="0.8"/>
<line x1="655.27" y1="363.5" x2="655.27" y2="383.0" stroke="#c8c8c8" stroke-width="0.6"/>
<rect x="659.71" y="367.1" width="5.2" height="12.6" rx="1.0" fill="none" stroke="#8a8a8a" stroke-width="0.8"/>
<line x1="662.31" y1="363.5" x2="662.31" y2="383.0" stroke="#c8c8c8" stroke-width="0.6"/>
<rect x="666.75" y="367.1" width="5.2" height="12.6" rx="1.0" fill="none" stroke="#8a8a8a" stroke-width="0.8"/>
<line x1="669.35" y1="363.5" x2="669.35" y2="383.0" stroke="#c8c8c8" stroke-width="0.6"/>
<rect x="673.78" y="367.1" width="5.2" height="12.6" rx="1.0" fill="none" stroke="#8a8a8a" stroke-width="0.8"/>
<line x1="676.38" y1="363.5" x2="676.38" y2="383.0" stroke="#c8c8c8" stroke-width="0.6"/>
<rect x="680.81" y="367.1" width="5.2" height="12.6" rx="1.0" fill="none" stroke="#8a8a8a" stroke-width="0.8"/>
<line x1="683.41" y1="363.5" x2="683.41" y2="383.0" stroke="#c8c8c8" stroke-width="0.6"/>
<rect x="687.85" y="367.1" width="5.2" height="12.6" rx="1.0" fill="none" stroke="#8a8a8a" stroke-width="0.8"/>
<line x1="690.45" y1="363.5" x2="690.45" y2="383.0" stroke="#c8c8c8" stroke-width="0.6"/>
<rect x="694.88" y="367.1" width="5.2" height="12.6" rx="1.0" fill="none" stroke="#8a8a8a" stroke-width="0.8"/>
<line x1="697.49" y1="363.5" x2="697.49" y2="383.0" stroke="#c8c8c8" stroke-width="0.6"/>
<rect x="701.92" y="367.1" width="5.2" height="12.6" rx="1.0" fill="none" stroke="#8a8a8a" stroke-width="0.8"/>
<line x1="704.52" y1="363.5" x2="704.52" y2="383.0" stroke="#c8c8c8" stroke-width="0.6"/>
<rect x="708.96" y="367.1" width="5.2" height="12.6" rx="1.0" fill="none" stroke="#8a8a8a" stroke-width="0.8"/>
<line x1="711.56" y1="363.5" x2="711.56" y2="383.0" stroke="#c8c8c8" stroke-width="0.6"/>
<rect x="715.99" y="367.1" width="5.2" height="12.6" rx="1.0" fill="none" stroke="#8a8a8a" stroke-width="0.8"/>
<line x1="718.59" y1="363.5" x2="718.59" y2="383.0" stroke="#c8c8c8" stroke-width="0.6"/>
<rect x="723.02" y="367.1" width="5.2" height="12.6" rx="1.0" fill="none" stroke="#8a8a8a" stroke-width="0.8"/>
<line x1="725.62" y1="363.5" x2="725.62" y2="383.0" stroke="#c8c8c8" stroke-width="0.6"/>
<rect x="730.06" y="367.1" width="5.2" height="12.6" rx="1.0" fill="none" stroke="#8a8a8a" stroke-width="0.8"/>
<line x1="732.66" y1="363.5" x2="732.66" y2="383.0" stroke="#c8c8c8" stroke-width="0.6"/>
<rect x="737.10" y="367.1" width="5.2" height="12.6" rx="1.0" fill="none" stroke="#8a8a8a" stroke-width="0.8"/>
<line x1="739.7" y1="363.5" x2="739.7" y2="383.0" stroke="#c8c8c8" stroke-width="0.6"/>
<rect x="750.6" y="365.8" width="8.2" height="11.6" fill="none" stroke="#8a8a8a" stroke-width="0.8"/>
<line x1="754.3" y1="377.4" x2="754.3" y2="423.7" stroke="#b8b8b8" stroke-width="0.8"/>
<rect x="766.2" y="343.8" width="19.2" height="19.6" fill="none" stroke="#8a8a8a" stroke-width="0.8"/>
<line x1="760.3" y1="353.9" x2="791.8" y2="353.9" stroke="#b0b0b0" stroke-width="0.6"/>
<line x1="776.2" y1="363.4" x2="776.2" y2="434.1" stroke="#b8b8b8" stroke-width="0.8"/>
<g transform="translate(624.30,341.20) scale(0.961,1)"><text x="-0.87" y="0" font-family="Liberation Sans" font-size="11.43" fill="#1a1a1a" stroke="#1a1a1a" stroke-width="0.25" xml:space="preserve">1.90</text></g>
<line x1="606.5" y1="342.1" x2="644.0" y2="342.1" stroke="#b8b8b8" stroke-width="0.8"/>
<line x1="606.5" y1="338.4" x2="606.5" y2="365.0" stroke="#b8b8b8" stroke-width="0.6"/>
<line x1="619.7" y1="338.4" x2="619.7" y2="365.0" stroke="#b8b8b8" stroke-width="0.6"/>
<g transform="translate(621.00,352.20) scale(0.930,1)"><text x="-0.23" y="0" font-family="Liberation Sans" font-size="10.43" fill="#1a1a1a" stroke="#1a1a1a" stroke-width="0.25" xml:space="preserve">XD</text><rect x="15.09" y="-7.51" width="7.30" height="7.72" fill="none" stroke="#666" stroke-width="0.73"/><text x="23.22" y="0" font-family="Liberation Sans" font-size="10.43" fill="#1a1a1a" stroke="#1a1a1a" stroke-width="0.25" xml:space="preserve">20</text></g>
<g transform="translate(634.70,361.30) scale(0.953,1)"><text x="-0.23" y="0" font-family="Liberation Sans" font-size="10.29" fill="#1a1a1a" stroke="#1a1a1a" stroke-width="0.25" xml:space="preserve">XD</text><rect x="14.88" y="-7.41" width="7.20" height="7.61" fill="none" stroke="#666" stroke-width="0.72"/><text x="22.90" y="0" font-family="Liberation Sans" font-size="10.29" fill="#1a1a1a" stroke="#1a1a1a" stroke-width="0.25" xml:space="preserve">18</text></g>
<polyline points="621.0,347.8 617.0,347.8 606.9,366.8" fill="none" stroke="#b8b8b8" stroke-width="0.8"/>
<polyline points="634.7,356.7 630.5,356.7 619.7,366.8" fill="none" stroke="#b8b8b8" stroke-width="0.8"/>
<g transform="translate(701.70,350.20) scale(0.957,1)"><text x="-0.23" y="0" font-family="Liberation Sans" font-size="10.29" fill="#1a1a1a" stroke="#1a1a1a" stroke-width="0.25" xml:space="preserve">XD</text><rect x="14.88" y="-7.41" width="7.20" height="7.61" fill="none" stroke="#666" stroke-width="0.72"/><text x="22.90" y="0" font-family="Liberation Sans" font-size="10.29" fill="#1a1a1a" stroke="#1a1a1a" stroke-width="0.25" xml:space="preserve">19</text></g>
<g transform="translate(698.80,358.40) scale(1.014,1)"><text x="-0.23" y="0" font-family="Liberation Sans" font-size="10.43" fill="#1a1a1a" stroke="#1a1a1a" stroke-width="0.25" xml:space="preserve">XD</text><rect x="15.09" y="-7.51" width="7.30" height="7.72" fill="none" stroke="#666" stroke-width="0.73"/><text x="23.22" y="0" font-family="Liberation Sans" font-size="10.43" fill="#1a1a1a" stroke="#1a1a1a" stroke-width="0.25" xml:space="preserve">1</text></g>
<polyline points="736.9,348.4 743.3,348.4 754.3,365.8" fill="none" stroke="#b8b8b8" stroke-width="0.8"/>
<polyline points="729.5,356.2 734.1,356.2 739.6,366.7" fill="none" stroke="#b8b8b8" stroke-width="0.8"/>
<g transform="translate(623.30,393.90) scale(1.100,1)"><text x="-0.79" y="0" font-family="Liberation Sans" font-size="10.43" fill="#1a1a1a" stroke="#1a1a1a" stroke-width="0.25" xml:space="preserve">1.00</text></g>
<line x1="594.5" y1="394.4" x2="613.2" y2="394.4" stroke="#b8b8b8" stroke-width="0.8"/>
<g transform="translate(629.70,403.00) scale(1.093,1)"><text x="-0.40" y="0" font-family="Liberation Sans" font-size="10.29" fill="#1a1a1a" stroke="#1a1a1a" stroke-width="0.25" xml:space="preserve">0.60</text></g>
<line x1="610.5" y1="403.6" x2="651.6" y2="403.6" stroke="#b8b8b8" stroke-width="0.8"/>
<line x1="617.8" y1="379.2" x2="617.8" y2="404.8" stroke="#b8b8b8" stroke-width="0.6"/>
<line x1="622.4" y1="379.2" x2="622.4" y2="404.8" stroke="#b8b8b8" stroke-width="0.6"/>
<g transform="translate(607.30,415.80) scale(1.003,1)"><text x="-0.84" y="0" font-family="Liberation Sans" font-size="11.00" fill="#1a1a1a" stroke="#1a1a1a" stroke-width="0.25" xml:space="preserve">1.70</text></g>
<line x1="594.5" y1="416.7" x2="629.7" y2="416.7" stroke="#b8b8b8" stroke-width="0.8"/>
<g transform="translate(718.20,394.70) scale(1.005,1)"><text x="-0.85" y="0" font-family="Liberation Sans" font-size="11.14" fill="#1a1a1a" stroke="#1a1a1a" stroke-width="0.25" xml:space="preserve">1.90</text></g>
<line x1="718.2" y1="395.0" x2="754.3" y2="395.0" stroke="#b8b8b8" stroke-width="0.8"/>
<line x1="739.6" y1="382.0" x2="739.6" y2="398.7" stroke="#b8b8b8" stroke-width="0.6"/>
<g transform="translate(666.40,422.60) scale(1.036,1)"><text x="-0.55" y="0" font-family="Liberation Sans" font-size="11.00" fill="#1a1a1a" stroke="#1a1a1a" stroke-width="0.25" xml:space="preserve">20.80</text></g>
<line x1="606.8" y1="423.7" x2="754.3" y2="423.7" stroke="#b8b8b8" stroke-width="0.8"/>
<g transform="translate(666.40,432.80) scale(1.023,1)"><text x="-0.56" y="0" font-family="Liberation Sans" font-size="11.14" fill="#1a1a1a" stroke="#1a1a1a" stroke-width="0.25" xml:space="preserve">26.80</text></g>
<line x1="584.4" y1="434.1" x2="776.2" y2="434.1" stroke="#b8b8b8" stroke-width="0.8"/>
<g transform="translate(642.50,447.00) scale(0.990,1)"><text x="-0.91" y="0" font-family="Liberation Sans" font-size="11.14" fill="#1a1a1a" stroke="#1a1a1a" stroke-width="0.25" xml:space="preserve">PCB LAYOUT</text></g>
<g transform="translate(946.50,124.00) rotate(-90) scale(0.929,1)"><text x="-0.30" y="0" font-family="Liberation Sans" font-size="12.86" fill="#1a1a1a" stroke="#1a1a1a" stroke-width="0.25" xml:space="preserve">4.00</text><rect x="25.76" y="-9.26" width="9.00" height="9.51" fill="none" stroke="#666" stroke-width="0.90"/><text x="35.79" y="0" font-family="Liberation Sans" font-size="12.86" fill="#1a1a1a" stroke="#1a1a1a" stroke-width="0.25" xml:space="preserve">0.05</text></g>
<line x1="949.0" y1="64.6" x2="949.0" y2="144.0" stroke="#b8b8b8" stroke-width="0.8"/>
<line x1="949.0" y1="124.4" x2="969.8" y2="124.4" stroke="#b8b8b8" stroke-width="0.8"/>
<line x1="949.0" y1="143.9" x2="968.5" y2="143.9" stroke="#b8b8b8" stroke-width="0.8"/>
<g transform="translate(966.60,97.60) scale(1.013,1)"><text x="-0.28" y="0" font-family="Liberation Sans" font-size="12.29" fill="#1a1a1a" stroke="#1a1a1a" stroke-width="0.25" xml:space="preserve">4.13</text></g>
<line x1="969.8" y1="100.0" x2="989.5" y2="100.0" stroke="#b8b8b8" stroke-width="0.8"/>
<line x1="969.4" y1="100.0" x2="969.4" y2="117.2" stroke="#b8b8b8" stroke-width="0.8"/>
<line x1="989.5" y1="100.0" x2="989.5" y2="124.3" stroke="#b8b8b8" stroke-width="0.8"/>
<path d="M969.4,117.2 L972.6,120.3 Q977.5,118.2 979.9,124.3" fill="none" stroke="#b8b8b8" stroke-width="0.8"/>
<rect x="969.4" y="124.3" width="20.1" height="4.1" fill="none" stroke="#7a7a7a" stroke-width="0.8"/>
<line x1="986.6" y1="125.2" x2="986.6" y2="128.4" stroke="#b8b8b8" stroke-width="0.6"/>
<line x1="969.4" y1="124.3" x2="969.4" y2="282.0" stroke="#7a7a7a" stroke-width="0.8"/>
<line x1="989.5" y1="124.3" x2="989.5" y2="282.0" stroke="#7a7a7a" stroke-width="0.8"/>
<line x1="971.3" y1="128.4" x2="971.3" y2="252.0" stroke="#b8b8b8" stroke-width="0.8"/>
<rect x="972.0" y="138.2" width="4.6" height="8.3" fill="none" stroke="#b8b8b8" stroke-width="0.8"/>
<rect x="971.3" y="153.8" width="5.3" height="5.5" fill="none" stroke="#b8b8b8" stroke-width="0.8"/>
<line x1="957.9" y1="134.0" x2="969.4" y2="134.0" stroke="#b8b8b8" stroke-width="0.8"/>
<rect x="967.0" y="133.7" width="2.4" height="14.0" fill="none" stroke="#b8b8b8" stroke-width="0.8"/>
<rect x="980.7" y="173.7" width="4.9" height="48.3" fill="none" stroke="#b8b8b8" stroke-width="0.8"/>
<line x1="983.2" y1="176" x2="983.2" y2="220" stroke="#bbb" stroke-width="0.6"/>
<g transform="translate(992.00,225.50) scale(0.968,1)"><text x="-0.50" y="0" font-family="Liberation Sans" font-size="12.71" fill="#1a1a1a" stroke="#1a1a1a" stroke-width="0.25" xml:space="preserve">0.40</text></g>
<line x1="958.4" y1="226.1" x2="1015.5" y2="226.1" stroke="#b8b8b8" stroke-width="0.8"/>
<rect x="974.0" y="239.0" width="3.5" height="8.5" fill="none" stroke="#b8b8b8" stroke-width="0.8"/>
<polyline points="969.4,252.0 981.3,252.0 982.8,258.9 982.8,260.0" fill="none" stroke="#b8b8b8" stroke-width="0.8"/>
<line x1="969.4" y1="260.0" x2="985.0" y2="260.0" stroke="#b8b8b8" stroke-width="0.8"/>
<line x1="969.4" y1="261.5" x2="985.0" y2="261.5" stroke="#b8b8b8" stroke-width="0.8"/>
<line x1="969.4" y1="268.5" x2="985.4" y2="268.5" stroke="#b8b8b8" stroke-width="0.8"/>
<line x1="969.4" y1="270.0" x2="985.4" y2="270.0" stroke="#b8b8b8" stroke-width="0.8"/>
<line x1="972.8" y1="261.5" x2="972.8" y2="268.5" stroke="#b8b8b8" stroke-width="0.6"/>
<line x1="974.4" y1="261.5" x2="974.4" y2="268.5" stroke="#b8b8b8" stroke-width="0.6"/>
<line x1="976.7" y1="261.5" x2="976.7" y2="268.5" stroke="#b8b8b8" stroke-width="0.6"/>
<line x1="982.0" y1="270.0" x2="982.0" y2="281.8" stroke="#b8b8b8" stroke-width="0.8"/>
<line x1="969.4" y1="281.8" x2="989.5" y2="281.8" stroke="#b8b8b8" stroke-width="0.8"/>
<g transform="translate(991.50,284.00) scale(1.167,1)"><text x="-0.24" y="0" font-family="Liberation Sans" font-size="10.57" fill="#1a1a1a" stroke="#1a1a1a" stroke-width="0.25" xml:space="preserve">4.4</text></g>
<line x1="969.4" y1="286.3" x2="1008.7" y2="286.3" stroke="#b8b8b8" stroke-width="0.8"/>
<line x1="969.4" y1="281.8" x2="969.5" y2="287.9" stroke="#b8b8b8" stroke-width="0.8"/>
<line x1="989.5" y1="281.8" x2="989.5" y2="287.9" stroke="#b8b8b8" stroke-width="0.8"/>
<g transform="translate(966.70,342.80) scale(1.017,1)"><text x="-0.60" y="0" font-family="Liberation Sans" font-size="12.00" fill="#1a1a1a" stroke="#1a1a1a" stroke-width="0.25" xml:space="preserve">28.37</text></g>
<line x1="912.6" y1="344.0" x2="1049.4" y2="344.0" stroke="#b8b8b8" stroke-width="0.8"/>
<line x1="912.6" y1="340.3" x2="912.6" y2="392.2" stroke="#b8b8b8" stroke-width="0.8"/>
<line x1="1049.4" y1="340.3" x2="1049.4" y2="392.2" stroke="#b8b8b8" stroke-width="0.8"/>
<g transform="translate(949.80,357.60) scale(0.952,1)"><text x="-0.92" y="0" font-family="Liberation Sans" font-size="12.14" fill="#1a1a1a" stroke="#1a1a1a" stroke-width="0.25" xml:space="preserve">16.00</text><rect x="30.43" y="-8.74" width="8.50" height="8.99" fill="none" stroke="#666" stroke-width="0.85"/><text x="39.90" y="0" font-family="Liberation Sans" font-size="12.14" fill="#1a1a1a" stroke="#1a1a1a" stroke-width="0.25" xml:space="preserve">0.05</text></g>
<line x1="942.7" y1="358.2" x2="1021.0" y2="358.2" stroke="#b8b8b8" stroke-width="0.8"/>
<line x1="942.7" y1="354.6" x2="942.7" y2="403.3" stroke="#b8b8b8" stroke-width="0.6"/>
<line x1="1021.0" y1="352.5" x2="1021.0" y2="391.0" stroke="#b8b8b8" stroke-width="0.6"/>
<g transform="translate(949.20,374.90) scale(0.962,1)"><rect x="0.00" y="-8.54" width="8.30" height="8.77" fill="none" stroke="#666" stroke-width="0.83"/><text x="9.25" y="0" font-family="Liberation Sans" font-size="11.86" fill="#1a1a1a" stroke="#1a1a1a" stroke-width="0.25" xml:space="preserve">2.00</text><rect x="33.27" y="-8.54" width="8.30" height="8.77" fill="none" stroke="#666" stroke-width="0.83"/><text x="42.52" y="0" font-family="Liberation Sans" font-size="11.86" fill="#1a1a1a" stroke="#1a1a1a" stroke-width="0.25" xml:space="preserve">0.05</text></g>
<line x1="928.5" y1="378.0" x2="1018.0" y2="378.0" stroke="#b8b8b8" stroke-width="0.8"/>
<line x1="936.6" y1="378.0" x2="936.6" y2="392.2" stroke="#b8b8b8" stroke-width="0.6"/>
<line x1="948.8" y1="378.0" x2="948.8" y2="392.2" stroke="#b8b8b8" stroke-width="0.6"/>
<line x1="911.9" y1="392.5" x2="1050.0" y2="392.5" stroke="#b8b8b8" stroke-width="0.8"/>
<path d="M916.3,392.8 V409.5 Q916.3,412.5 919.5,412.5 H1041.5 Q1044.8,412.5 1044.8,409.5 V392.8" fill="none" stroke="#7a7a7a" stroke-width="0.8"/>
<line x1="928.0" y1="412.9" x2="1035.6" y2="412.9" stroke="#777" stroke-width="1.0"/>
<line x1="981.9" y1="387.5" x2="981.9" y2="415.0" stroke="#bbb" stroke-width="0.6"/>
<rect x="937.5" y="390.6" width="10.5" height="2.0" fill="none" stroke="#b8b8b8" stroke-width="0.8"/>
<rect x="1014.4" y="390.6" width="11.2" height="2.0" fill="none" stroke="#b8b8b8" stroke-width="0.8"/>
<rect x="933.2" y="393.0" width="2.8" height="11.6" fill="none" stroke="#8a8a8a" stroke-width="0.7"/>
<rect x="941.35" y="393.0" width="2.8" height="11.6" fill="none" stroke="#8a8a8a" stroke-width="0.7"/>
<rect x="954.95" y="393.0" width="2.6" height="9.7" fill="none" stroke="#8a8a8a" stroke-width="0.7"/>
<rect x="953.95" y="402.7" width="4.6" height="7.5" rx="1.0" fill="none" stroke="#8a8a8a" stroke-width="0.7"/>
<rect x="962.7" y="393.0" width="2.6" height="9.7" fill="none" stroke="#8a8a8a" stroke-width="0.7"/>
<rect x="961.70" y="402.7" width="4.6" height="7.5" rx="1.0" fill="none" stroke="#8a8a8a" stroke-width="0.7"/>
<rect x="969.3000000000001" y="393.0" width="2.6" height="9.7" fill="none" stroke="#8a8a8a" stroke-width="0.7"/>
<rect x="968.30" y="402.7" width="4.6" height="7.5" rx="1.0" fill="none" stroke="#8a8a8a" stroke-width="0.7"/>
<rect x="977.45" y="393.0" width="2.6" height="9.7" fill="none" stroke="#8a8a8a" stroke-width="0.7"/>
<rect x="976.45" y="402.7" width="4.6" height="7.5" rx="1.0" fill="none" stroke="#8a8a8a" stroke-width="0.7"/>
<rect x="985.95" y="393.0" width="2.6" height="9.7" fill="none" stroke="#8a8a8a" stroke-width="0.7"/>
<rect x="984.95" y="402.7" width="4.6" height="7.5" rx="1.0" fill="none" stroke="#8a8a8a" stroke-width="0.7"/>
<rect x="991.8000000000001" y="393.0" width="2.6" height="9.7" fill="none" stroke="#8a8a8a" stroke-width="0.7"/>
<rect x="990.80" y="402.7" width="4.6" height="7.5" rx="1.0" fill="none" stroke="#8a8a8a" stroke-width="0.7"/>
<rect x="998.1" y="393.0" width="2.6" height="9.7" fill="none" stroke="#8a8a8a" stroke-width="0.7"/>
<rect x="997.10" y="402.7" width="4.6" height="7.5" rx="1.0" fill="none" stroke="#8a8a8a" stroke-width="0.7"/>
<rect x="1006.2" y="393.0" width="2.6" height="9.7" fill="none" stroke="#8a8a8a" stroke-width="0.7"/>
<rect x="1005.20" y="402.7" width="4.6" height="7.5" rx="1.0" fill="none" stroke="#8a8a8a" stroke-width="0.7"/>
<rect x="1016.45" y="393.0" width="2.6" height="9.7" fill="none" stroke="#8a8a8a" stroke-width="0.7"/>
<rect x="1015.45" y="402.7" width="4.6" height="7.5" rx="1.0" fill="none" stroke="#8a8a8a" stroke-width="0.7"/>
<rect x="1024.95" y="393.0" width="2.6" height="9.7" fill="none" stroke="#8a8a8a" stroke-width="0.7"/>
<rect x="1023.95" y="402.7" width="4.6" height="7.5" rx="1.0" fill="none" stroke="#8a8a8a" stroke-width="0.7"/>
<rect x="968.4" y="401.3" width="4.2" height="1.2" fill="#555" stroke="#555" stroke-width="0.5"/>
<rect x="991.0" y="401.3" width="4.2" height="1.2" fill="#555" stroke="#555" stroke-width="0.5"/>
<rect x="941.2" y="405.6" width="11.2" height="3.2" fill="none" stroke="#6a6a6a" stroke-width="0.8"/>
<line x1="930.0" y1="394.5" x2="1031.0" y2="394.5" stroke="#bbb" stroke-width="0.6" stroke-dasharray="1.5,1.5"/>
<rect x="1056.0" y="380.6" width="42.2" height="11.6" fill="none" stroke="#8a8a8a" stroke-width="0.8"/>
<line x1="1074.4" y1="380.6" x2="1074.4" y2="392.2" stroke="#b8b8b8" stroke-width="0.8"/>
<path d="M1061,389.5 L1064.5,383.6 L1072,383.6 L1068.5,389.5 Z" fill="none" stroke="#8a8a8a" stroke-width="0.7"/>
<g transform="translate(1080.00,390.00) scale(1.040,1)"><text x="-0.32" y="0" font-family="Liberation Sans" font-size="8.29" fill="#1a1a1a" stroke="#1a1a1a" stroke-width="0.25" xml:space="preserve">0.12</text></g>
</svg></body></html>
